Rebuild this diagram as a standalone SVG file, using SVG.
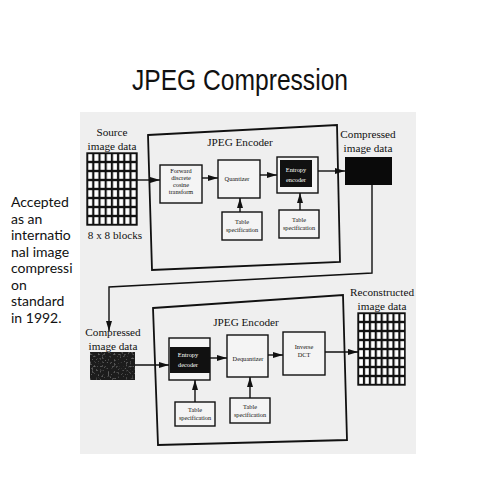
<svg xmlns="http://www.w3.org/2000/svg" width="480" height="480" viewBox="0 0 480 480">
<defs>
<marker id="ah" viewBox="0 0 10 6" refX="10" refY="3" markerWidth="10" markerHeight="6" markerUnits="userSpaceOnUse" orient="auto">
<path d="M0,0 L10,3 L0,6 Z" fill="#111"/>
</marker>
<pattern id="grid1" x="87" y="153" width="6.2" height="9" patternUnits="userSpaceOnUse">
<rect width="6.2" height="9" fill="#111"/>
<rect x="1.2" y="1.2" width="4" height="6.6" fill="#fff"/>
</pattern>
<pattern id="grid2" x="358" y="313" width="5.9" height="9" patternUnits="userSpaceOnUse">
<rect width="5.9" height="9" fill="#111"/>
<rect x="1.2" y="1.2" width="3.7" height="6.6" fill="#fff"/>
</pattern>
<filter id="noise" x="0" y="0" width="1" height="1">
<feTurbulence type="fractalNoise" baseFrequency="0.5" numOctaves="2" seed="3" result="t"/>
<feColorMatrix in="t" type="matrix" values="0 0 0 0 0.4  0 0 0 0 0.4  0 0 0 0 0.4  0 0 0 1.4 -0.8" result="n"/>
<feComposite in="n" in2="SourceGraphic" operator="in" result="m"/>
<feMerge><feMergeNode in="SourceGraphic"/><feMergeNode in="m"/></feMerge>
</filter>
</defs>
<style>
.ser{font-family:"Liberation Serif","DejaVu Serif",serif;fill:#111;}
.hd{font-size:11.2px;text-anchor:middle;}
.sm{font-size:6.3px;text-anchor:middle;}
.wh{fill:#fff;}
.bx{fill:#f4f4f4;stroke:#111;stroke-width:1.4;}
.frame{fill:none;stroke:#111;stroke-width:1.8;}
.con{fill:none;stroke:#111;stroke-width:1.4;}
.side{font-family:Lato,"Liberation Sans",sans-serif;font-size:14px;fill:#111;}
</style>
<rect width="480" height="480" fill="#fff"/>
<text x="240" y="90" text-anchor="middle" font-family="'Liberation Sans',Arial,sans-serif" font-size="29" fill="#111" textLength="216" lengthAdjust="spacingAndGlyphs">JPEG Compression</text>
<g id="side-note">
<text class="side" x="11" y="207">Accepted</text>
<text class="side" x="11" y="223.5">as an</text>
<text class="side" x="11" y="240">internatio</text>
<text class="side" x="11" y="256.5">nal image</text>
<text class="side" x="11" y="273">compressi</text>
<text class="side" x="11" y="289.5">on</text>
<text class="side" x="11" y="306">standard</text>
<text class="side" x="11" y="322.5">in 1992.</text>
</g>
<rect x="80" y="112" width="336" height="342" fill="#efefef"/>
<g id="encoder">
<polygon class="frame" points="148,135 337,125 340,262 152,270"/>
<text class="ser hd" x="240" y="146">JPEG Encoder</text>
</g>
<g id="source">
<text class="ser hd" x="112" y="136">Source</text>
<text class="ser hd" x="112" y="149.5">image data</text>
<rect x="87" y="153" width="50" height="72" fill="url(#grid1)" stroke="#111" stroke-width="1.4"/>
<text class="ser hd" x="115" y="239">8 x 8 blocks</text>
</g>
<g id="fdct">
<rect class="bx" x="160" y="165" width="42" height="38"/>
<text class="ser sm" x="181" y="173">Forward</text>
<text class="ser sm" x="181" y="180">discrete</text>
<text class="ser sm" x="181" y="187">cosine</text>
<text class="ser sm" x="181" y="194">transform</text>
</g>
<g id="quantizer">
<rect class="bx" x="218" y="160" width="42" height="38"/>
<text class="ser sm" x="237" y="181">Quantizer</text>
</g>
<g id="entropy-encoder">
<rect class="bx" x="277" y="157" width="41" height="36"/>
<rect x="280" y="160" width="32" height="27" fill="#111"/>
<text class="ser sm wh" x="296" y="172">Entropy</text>
<text class="ser sm wh" x="296" y="182">encoder</text>
</g>
<g id="table1">
<rect class="bx" x="222" y="212" width="40" height="28"/>
<text class="ser sm" x="242" y="224">Table</text>
<text class="ser sm" x="242" y="232">specification</text>
</g>
<g id="table2">
<rect class="bx" x="279" y="210" width="40" height="28"/>
<text class="ser sm" x="299" y="222">Table</text>
<text class="ser sm" x="299" y="230">specification</text>
</g>
<g id="compressed-out">
<text class="ser hd" x="368" y="138">Compressed</text>
<text class="ser hd" x="368" y="151.5">image data</text>
<rect x="345" y="157" width="47" height="28" fill="#0a0a0a"/>
</g>
<g id="decoder">
<polygon class="frame" points="153,308 343,295 347,440 158,445"/>
<text class="ser hd" x="246" y="326">JPEG Encoder</text>
</g>
<g id="compressed-in">
<text class="ser hd" x="113" y="336">Compressed</text>
<text class="ser hd" x="113" y="349.5">image data</text>
<rect x="90" y="352" width="45" height="28" fill="#1e1e1e" filter="url(#noise)"/>
</g>
<g id="entropy-decoder">
<rect class="bx" x="169" y="338" width="41" height="42"/>
<rect x="170" y="347" width="40" height="26" fill="#111"/>
<text class="ser sm wh" x="188" y="357">Entropy</text>
<text class="ser sm wh" x="188" y="367">decoder</text>
</g>
<g id="dequantizer">
<rect class="bx" x="227" y="335" width="41" height="42"/>
<text class="ser sm" x="248" y="361">Dequantizer</text>
</g>
<g id="idct">
<rect class="bx" x="283" y="332" width="42" height="43"/>
<text class="ser sm" x="304" y="349">Inverse</text>
<text class="ser sm" x="304" y="357">DCT</text>
</g>
<g id="table3">
<rect class="bx" x="175" y="402" width="40" height="24"/>
<text class="ser sm" x="195" y="412">Table</text>
<text class="ser sm" x="195" y="420">specification</text>
</g>
<g id="table4">
<rect class="bx" x="230" y="398" width="40" height="25"/>
<text class="ser sm" x="250" y="409">Table</text>
<text class="ser sm" x="250" y="417">specification</text>
</g>
<g id="reconstructed">
<text class="ser hd" x="382" y="296">Reconstructed</text>
<text class="ser hd" x="382" y="309.5">image data</text>
<rect x="358" y="313" width="47" height="72" fill="url(#grid2)" stroke="#111" stroke-width="1.4"/>
</g>
<g id="connectors">
<line class="con" x1="137" y1="180" x2="160" y2="180" marker-end="url(#ah)"/>
<line class="con" x1="202" y1="178" x2="218" y2="178" marker-end="url(#ah)"/>
<line class="con" x1="260" y1="175" x2="277" y2="175" marker-end="url(#ah)"/>
<line class="con" x1="318" y1="171" x2="345" y2="171" marker-end="url(#ah)"/>
<line class="con" x1="240" y1="212" x2="240" y2="198" marker-end="url(#ah)"/>
<line class="con" x1="300" y1="210" x2="300" y2="193" marker-end="url(#ah)"/>
<polyline class="con" points="372,185 372,273 109,287 109,331" marker-end="url(#ah)"/>
<line class="con" x1="135" y1="365" x2="169" y2="365" marker-end="url(#ah)"/>
<line class="con" x1="210" y1="358" x2="227" y2="358" marker-end="url(#ah)"/>
<line class="con" x1="268" y1="355" x2="283" y2="355" marker-end="url(#ah)"/>
<line class="con" x1="325" y1="352" x2="358" y2="352" marker-end="url(#ah)"/>
<line class="con" x1="195" y1="402" x2="195" y2="380" marker-end="url(#ah)"/>
<line class="con" x1="250" y1="398" x2="250" y2="377" marker-end="url(#ah)"/>
</g>
</svg>
